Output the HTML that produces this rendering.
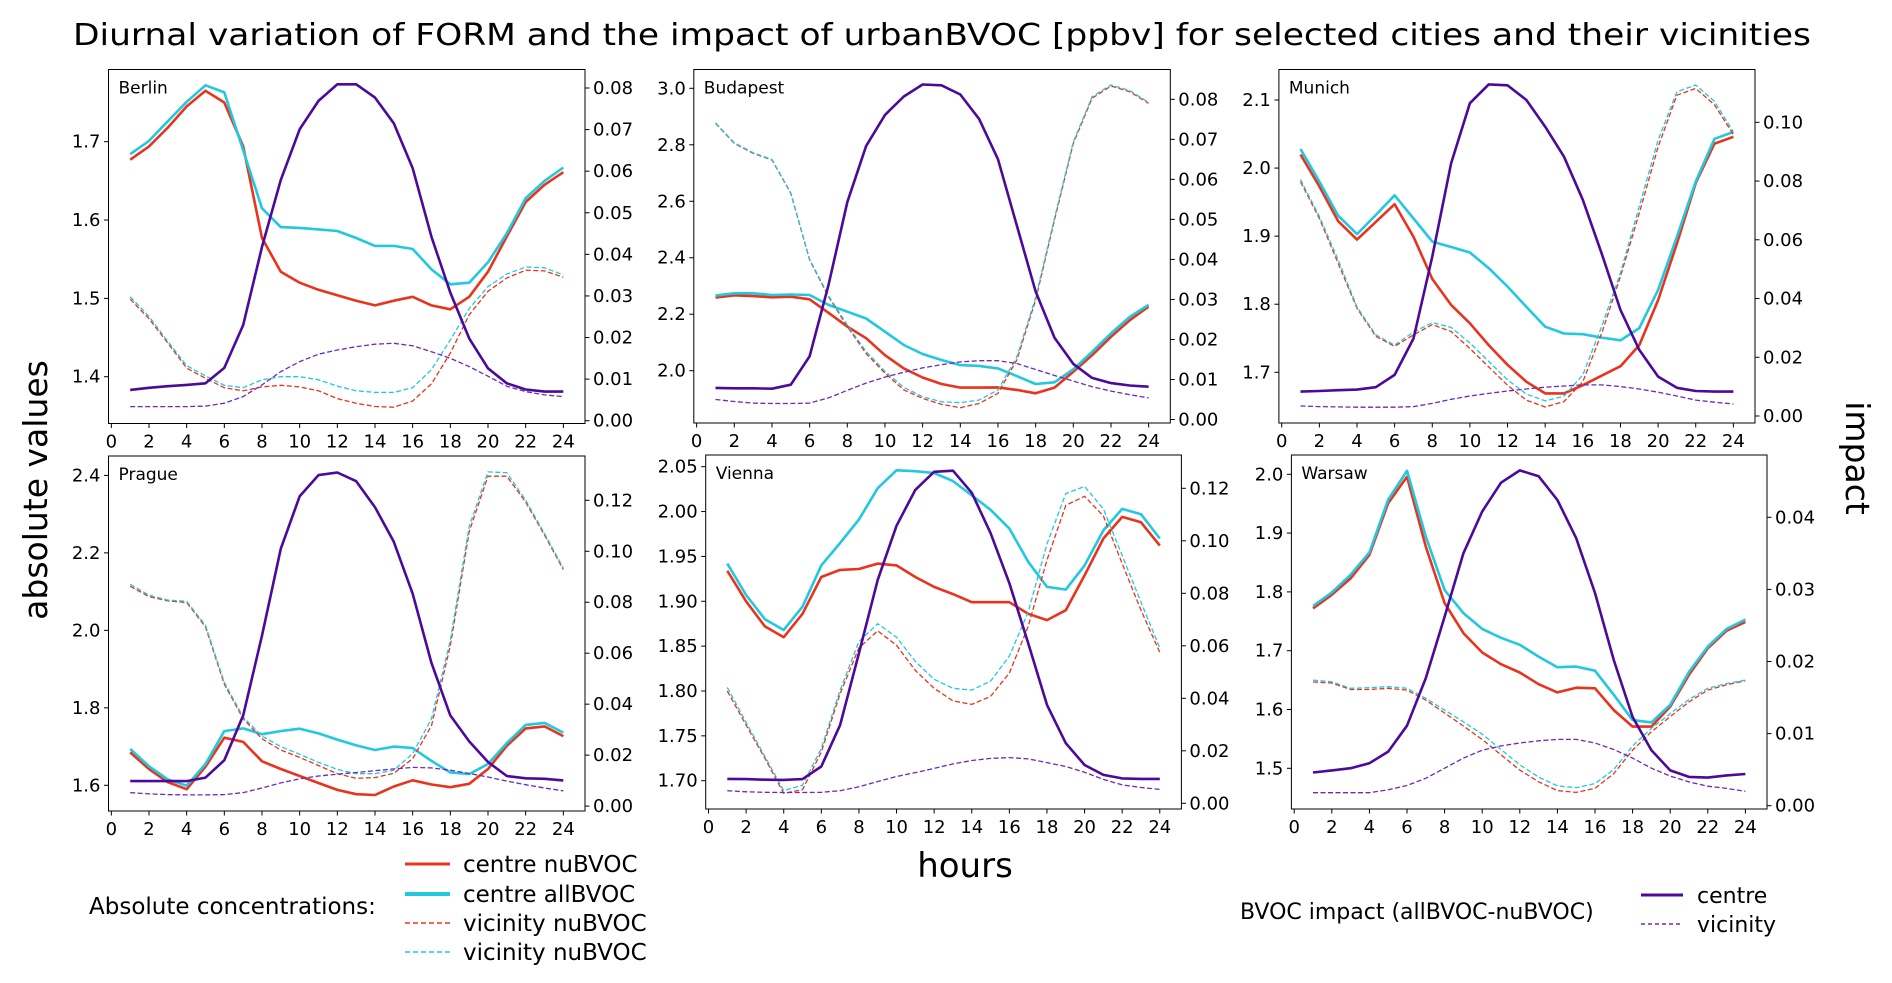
<!DOCTYPE html>
<html><head><meta charset="utf-8"><title>Diurnal variation of FORM</title>
<style>
html,body{margin:0;padding:0;background:#fff;}
svg{display:block;font-family:"DejaVu Sans","Liberation Sans",sans-serif;}
</style></head>
<body>
<svg id="chart" width="1892" height="983" viewBox="0 0 1892 983" xmlns="http://www.w3.org/2000/svg">
<rect width="1892" height="983" fill="#fff"/>
<text x="942" y="45" font-size="30" text-anchor="middle" textLength="1738" lengthAdjust="spacingAndGlyphs" fill="#000">Diurnal variation of FORM and the impact of urbanBVOC [ppbv] for selected cities and their vicinities</text>
<text transform="translate(47,490) rotate(-90)" font-size="33" text-anchor="middle" fill="#000">absolute values</text>
<text transform="translate(1846,458) rotate(90)" font-size="33" text-anchor="middle" fill="#000">impact</text>
<text x="965" y="877" font-size="34" text-anchor="middle" fill="#000">hours</text>
<g id="panels"></g>
<g>
<text x="89" y="914" font-size="23" fill="#000">Absolute concentrations:</text>
<line x1="405" y1="864" x2="450" y2="864" stroke="#e8341c" stroke-width="3"/>
<text x="463" y="872" font-size="23">centre nuBVOC</text>
<line x1="405" y1="894" x2="450" y2="894" stroke="#22c8e0" stroke-width="4"/>
<text x="463" y="902" font-size="23">centre allBVOC</text>
<line x1="405" y1="923" x2="450" y2="923" stroke="#e8341c" stroke-width="1.5" stroke-dasharray="5,3"/>
<text x="463" y="931" font-size="23">vicinity nuBVOC</text>
<line x1="405" y1="952" x2="450" y2="952" stroke="#22c8e0" stroke-width="1.5" stroke-dasharray="5,3"/>
<text x="463" y="960" font-size="23">vicinity nuBVOC</text>
</g>
<g>
<text x="1240" y="919" font-size="22">BVOC impact (allBVOC-nuBVOC)</text>
<line x1="1641" y1="895" x2="1683" y2="895" stroke="#4b0a9a" stroke-width="3"/>
<text x="1697" y="903" font-size="22">centre</text>
<line x1="1641" y1="924" x2="1683" y2="924" stroke="#6a2bb8" stroke-width="1.5" stroke-dasharray="4,3"/>
<text x="1697" y="932" font-size="22">vicinity</text>
</g>
</svg>
<script>
const hours = [1,2,3,4,5,6,7,8,9,10,11,12,13,14,15,16,17,18,19,20,21,22,23,24];
const xTicks = [0,2,4,6,8,10,12,14,16,18,20,22,24];
const cities = ["Berlin","Budapest","Munich","Prague","Vienna","Warsaw"];

const berlinCentreNu = [1.677,1.694,1.718,1.745,1.765,1.750,1.694,1.577,1.534,1.520,1.511,1.504,1.497,1.491,1.497,1.502,1.491,1.486,1.502,1.534,1.579,1.623,1.645,1.661];
const berlinCentreAll = [1.684,1.701,1.726,1.751,1.772,1.763,1.689,1.615,1.591,1.590,1.588,1.586,1.577,1.567,1.567,1.563,1.537,1.518,1.520,1.546,1.583,1.628,1.650,1.667];
const berlinVicNu = [1.499,1.474,1.443,1.411,1.398,1.386,1.382,1.387,1.389,1.387,1.382,1.372,1.366,1.362,1.361,1.369,1.391,1.430,1.479,1.509,1.526,1.536,1.535,1.527];
const berlinVicAll = [1.502,1.477,1.445,1.414,1.401,1.389,1.386,1.396,1.400,1.400,1.396,1.388,1.382,1.380,1.380,1.386,1.409,1.447,1.487,1.515,1.531,1.540,1.539,1.530];
const berlinImpCentre = [0.0074,0.0079,0.0083,0.0086,0.0090,0.0127,0.0230,0.0418,0.0579,0.0701,0.0769,0.0809,0.0809,0.0777,0.0715,0.0607,0.0442,0.0308,0.0198,0.0126,0.0090,0.0075,0.0070,0.0070];
const berlinImpVic = [0.0034,0.0034,0.0034,0.0034,0.0035,0.0042,0.0058,0.0086,0.0118,0.0142,0.0160,0.0170,0.0178,0.0184,0.0186,0.0180,0.0166,0.0150,0.0130,0.0107,0.0083,0.0070,0.0062,0.0058];

const budapestCentreNu = [2.259,2.267,2.264,2.260,2.262,2.253,2.205,2.156,2.115,2.055,2.008,1.976,1.953,1.940,1.940,1.941,1.932,1.920,1.940,1.996,2.055,2.120,2.179,2.227];
const budapestCentreAll = [2.266,2.274,2.274,2.268,2.270,2.268,2.233,2.209,2.185,2.138,2.091,2.059,2.038,2.020,2.017,2.008,1.981,1.953,1.959,2.005,2.067,2.132,2.191,2.233];
const budapestVicNu = [2.876,2.805,2.770,2.746,2.628,2.392,2.262,2.156,2.061,1.991,1.932,1.902,1.881,1.869,1.884,1.920,2.038,2.250,2.534,2.805,2.965,3.008,2.988,2.947];
const budapestVicAll = [2.878,2.807,2.772,2.748,2.630,2.395,2.266,2.162,2.068,1.998,1.941,1.908,1.890,1.887,1.896,1.932,2.048,2.258,2.540,2.810,2.970,3.012,2.992,2.950];
const budapestImpCentre = [0.0079,0.0078,0.0078,0.0077,0.0087,0.0158,0.0336,0.0543,0.0683,0.0761,0.0807,0.0837,0.0835,0.0812,0.0751,0.0650,0.0485,0.0320,0.0204,0.0139,0.0104,0.0091,0.0085,0.0082];
const budapestImpVic = [0.0050,0.0045,0.0041,0.0040,0.0040,0.0041,0.0054,0.0073,0.0091,0.0106,0.0118,0.0129,0.0137,0.0144,0.0147,0.0147,0.0140,0.0125,0.0110,0.0096,0.0082,0.0071,0.0062,0.0054];

const munichCentreNu = [2.020,1.973,1.922,1.895,1.921,1.947,1.899,1.837,1.799,1.772,1.740,1.711,1.686,1.669,1.669,1.681,1.695,1.709,1.740,1.806,1.889,1.978,2.036,2.046];
const munichCentreAll = [2.028,1.980,1.930,1.903,1.931,1.960,1.926,1.892,1.884,1.876,1.853,1.826,1.796,1.767,1.757,1.756,1.751,1.747,1.765,1.821,1.899,1.980,2.043,2.053];
const munichVicNu = [1.980,1.926,1.860,1.794,1.753,1.738,1.755,1.770,1.760,1.735,1.708,1.681,1.659,1.649,1.657,1.686,1.757,1.841,1.934,2.031,2.107,2.117,2.093,2.049];
const munichVicAll = [1.983,1.929,1.865,1.796,1.755,1.740,1.759,1.773,1.766,1.743,1.716,1.689,1.668,1.658,1.665,1.696,1.767,1.846,1.944,2.041,2.112,2.122,2.098,2.053];
const munichImpCentre = [0.0083,0.0085,0.0088,0.0090,0.0098,0.0140,0.0264,0.0543,0.0860,0.1065,0.1129,0.1126,0.1076,0.0985,0.0883,0.0736,0.0554,0.0361,0.0225,0.0134,0.0096,0.0085,0.0083,0.0083];
const munichImpVic = [0.0034,0.0032,0.0031,0.0030,0.0030,0.0030,0.0032,0.0043,0.0057,0.0068,0.0077,0.0085,0.0092,0.0098,0.0102,0.0106,0.0106,0.0100,0.0092,0.0081,0.0068,0.0054,0.0047,0.0041];

const pragueCentreNu = [1.685,1.642,1.608,1.590,1.648,1.723,1.712,1.662,1.642,1.624,1.606,1.588,1.577,1.575,1.597,1.613,1.602,1.595,1.604,1.642,1.702,1.747,1.752,1.727];
const pragueCentreAll = [1.694,1.649,1.615,1.599,1.655,1.740,1.747,1.732,1.740,1.746,1.734,1.718,1.703,1.691,1.700,1.696,1.663,1.633,1.629,1.655,1.709,1.756,1.761,1.736];
const pragueVicNu = [2.114,2.087,2.076,2.072,2.009,1.861,1.772,1.720,1.691,1.672,1.651,1.630,1.618,1.620,1.631,1.669,1.754,1.960,2.255,2.398,2.398,2.331,2.246,2.157];
const pragueVicAll = [2.119,2.091,2.078,2.075,2.013,1.866,1.776,1.727,1.700,1.680,1.659,1.641,1.630,1.630,1.639,1.682,1.772,1.974,2.268,2.409,2.407,2.336,2.250,2.161];
const pragueImpCentre = [0.0098,0.0098,0.0098,0.0098,0.0112,0.0180,0.0356,0.0669,0.1010,0.1216,0.1299,0.1309,0.1275,0.1173,0.1037,0.0833,0.0561,0.0356,0.0254,0.0173,0.0118,0.0109,0.0107,0.0101];
const pragueImpVic = [0.0053,0.0048,0.0045,0.0044,0.0044,0.0045,0.0053,0.0071,0.0091,0.0107,0.0118,0.0125,0.0132,0.0139,0.0146,0.0152,0.0150,0.0141,0.0128,0.0114,0.0098,0.0084,0.0071,0.0060];

const viennaCentreNu = [1.934,1.900,1.872,1.860,1.886,1.927,1.935,1.936,1.942,1.940,1.927,1.916,1.908,1.899,1.899,1.899,1.886,1.879,1.890,1.929,1.970,1.994,1.988,1.962];
const viennaCentreAll = [1.942,1.907,1.880,1.868,1.894,1.940,1.965,1.991,2.026,2.046,2.045,2.043,2.034,2.018,2.002,1.981,1.944,1.916,1.913,1.940,1.979,2.003,1.997,1.970];
const viennaVicNu = [1.800,1.762,1.725,1.686,1.690,1.732,1.797,1.848,1.867,1.851,1.823,1.803,1.789,1.785,1.794,1.820,1.872,1.946,2.007,2.017,1.995,1.942,1.890,1.843];
const viennaVicAll = [1.804,1.765,1.727,1.689,1.695,1.736,1.801,1.855,1.875,1.860,1.833,1.813,1.803,1.801,1.811,1.839,1.888,1.964,2.020,2.028,2.003,1.951,1.899,1.848];
const viennaImpCentre = [0.0093,0.0092,0.0090,0.0089,0.0092,0.0140,0.0298,0.0571,0.0851,0.1057,0.1194,0.1263,0.1267,0.1183,0.1029,0.0838,0.0610,0.0375,0.0229,0.0146,0.0108,0.0095,0.0093,0.0093];
const viennaImpVic = [0.0048,0.0044,0.0042,0.0041,0.0041,0.0042,0.0048,0.0063,0.0083,0.0102,0.0117,0.0133,0.0150,0.0163,0.0171,0.0174,0.0169,0.0155,0.0140,0.0118,0.0091,0.0070,0.0060,0.0053];

const warsawCentreNu = [1.772,1.795,1.823,1.863,1.951,1.996,1.877,1.781,1.730,1.697,1.677,1.663,1.643,1.629,1.637,1.636,1.599,1.571,1.571,1.605,1.659,1.704,1.734,1.749];
const warsawCentreAll = [1.776,1.799,1.829,1.867,1.957,2.006,1.894,1.803,1.764,1.737,1.722,1.710,1.690,1.672,1.673,1.666,1.625,1.582,1.578,1.608,1.664,1.707,1.737,1.753];
const warsawVicNu = [1.647,1.645,1.634,1.634,1.636,1.633,1.616,1.594,1.572,1.549,1.523,1.497,1.477,1.462,1.459,1.466,1.491,1.531,1.562,1.588,1.613,1.633,1.642,1.649];
const warsawVicAll = [1.650,1.647,1.636,1.637,1.639,1.636,1.619,1.599,1.579,1.558,1.532,1.506,1.485,1.470,1.467,1.474,1.498,1.538,1.568,1.593,1.617,1.636,1.644,1.650];
const warsawImpCentre = [0.0046,0.0049,0.0052,0.0059,0.0075,0.0111,0.0177,0.0262,0.0350,0.0408,0.0448,0.0465,0.0457,0.0424,0.0371,0.0295,0.0202,0.0123,0.0077,0.0049,0.0040,0.0039,0.0042,0.0044];
const warsawImpVic = [0.0018,0.0018,0.0018,0.0018,0.0022,0.0028,0.0038,0.0052,0.0066,0.0077,0.0083,0.0087,0.0090,0.0092,0.0092,0.0087,0.0078,0.0066,0.0052,0.0041,0.0033,0.0027,0.0024,0.0020];

const berlinLeftTicks = [1.4,1.5,1.6,1.7];
const berlinRightTicks = [0,0.01,0.02,0.03,0.04,0.05,0.06,0.07,0.08];
const budapestLeftTicks = [2.0,2.2,2.4,2.6,2.8,3.0];
const budapestRightTicks = [0,0.01,0.02,0.03,0.04,0.05,0.06,0.07,0.08];
const munichLeftTicks = [1.7,1.8,1.9,2.0,2.1];
const munichRightTicks = [0,0.02,0.04,0.06,0.08,0.10];
const pragueLeftTicks = [1.6,1.8,2.0,2.2,2.4];
const pragueRightTicks = [0,0.02,0.04,0.06,0.08,0.10,0.12];
const viennaLeftTicks = [1.70,1.75,1.80,1.85,1.90,1.95,2.00,2.05];
const viennaRightTicks = [0,0.02,0.04,0.06,0.08,0.10,0.12];
const warsawLeftTicks = [1.5,1.6,1.7,1.8,1.9,2.0];
const warsawRightTicks = [0,0.01,0.02,0.03,0.04];

const layout = [
 {name:"berlin", x0:108.5,x1:585,y0:69.5,y1:423.5, l:[1.4,376.7,1.7,141.7], r:[0,420.7,0.08,88], ld:1, rd:2, ticks:[berlinLeftTicks,berlinRightTicks], s:[berlinCentreNu,berlinCentreAll,berlinVicNu,berlinVicAll,berlinImpCentre,berlinImpVic]},
 {name:"budapest", x0:693.8,x1:1170.3,y0:69.5,y1:423, l:[2.0,370.7,3.0,88.3], r:[0,419.5,0.08,99.3], ld:1, rd:2, ticks:[budapestLeftTicks,budapestRightTicks], s:[budapestCentreNu,budapestCentreAll,budapestVicNu,budapestVicAll,budapestImpCentre,budapestImpVic]},
 {name:"munich", x0:1278.9,x1:1755,y0:69.5,y1:423, l:[1.7,372.3,2.1,100], r:[0,416,0.10,122.3], ld:1, rd:2, ticks:[munichLeftTicks,munichRightTicks], s:[munichCentreNu,munichCentreAll,munichVicNu,munichVicAll,munichImpCentre,munichImpVic]},
 {name:"prague", x0:108.5,x1:585,y0:456,y1:811, l:[1.6,785.3,2.4,475.4], r:[0,806.1,0.12,500.3], ld:1, rd:2, ticks:[pragueLeftTicks,pragueRightTicks], s:[pragueCentreNu,pragueCentreAll,pragueVicNu,pragueVicAll,pragueImpCentre,pragueImpVic]},
 {name:"vienna", x0:705.7,x1:1181.4,y0:455,y1:809, l:[1.70,780.7,2.05,466.7], r:[0,803.3,0.12,488.3], ld:2, rd:2, ticks:[viennaLeftTicks,viennaRightTicks], s:[viennaCentreNu,viennaCentreAll,viennaVicNu,viennaVicAll,viennaImpCentre,viennaImpVic]},
 {name:"warsaw", x0:1291.4,x1:1767,y0:455,y1:809, l:[1.5,768.3,2.0,474.3], r:[0,805.7,0.04,517.3], ld:1, rd:2, ticks:[warsawLeftTicks,warsawRightTicks], s:[warsawCentreNu,warsawCentreAll,warsawVicNu,warsawVicAll,warsawImpCentre,warsawImpVic]}
];
const styles = [
 {c:"#e8341c",w:2.6,d:"",n:"centre-nubvoc",ax:"l"},
 {c:"#22c8e0",w:2.6,d:"",n:"centre-allbvoc",ax:"l"},
 {c:"#e8341c",w:1.3,d:"5,2.5",n:"vicinity-nubvoc",ax:"l"},
 {c:"#22c8e0",w:1.3,d:"5,2.5",n:"vicinity-allbvoc",ax:"l"},
 {c:"#4b0a9a",w:2.6,d:"",n:"centre-impact",ax:"r"},
 {c:"#6a2bb8",w:1.3,d:"5,2.5",n:"vicinity-impact",ax:"r"}
];
const NS="http://www.w3.org/2000/svg";
function mk(tag,attrs,parent){const e=document.createElementNS(NS,tag);for(const k in attrs)e.setAttribute(k,attrs[k]);if(parent)parent.appendChild(e);return e;}
function lin(c){return v=>c[1]+(v-c[0])*(c[3]-c[1])/(c[2]-c[0]);}
const root=document.getElementById("panels");
layout.forEach((p,pi)=>{
  const g=mk("g",{},root);
  
  
  const xs=v=>p.x0+(v+0.15)*(p.x1-p.x0)/25.3;
  const yl=lin(p.l), yr=lin(p.r);
  styles.forEach((st,si)=>{
    const ys = st.ax==="l"?yl:yr;
    const pts = hours.map((h,i)=>xs(h).toFixed(1)+","+ys(p.s[si][i]).toFixed(1)).join(" ");
    const pl=mk("polyline",{points:pts,fill:"none",stroke:st.c,"stroke-width":st.w,"stroke-linejoin":"round","stroke-dasharray":st.d},g);
    
    
  });
  const fr=mk("rect",{x:p.x0,y:p.y0,width:p.x1-p.x0,height:p.y1-p.y0,fill:"none",stroke:"#000","stroke-width":1},g);
  
  
  const lbl=mk("text",{x:p.x0+10,y:p.y0+24,"font-size":17,fill:"#000"},g);
  lbl.textContent=cities[pi];
  
  
  xTicks.forEach(t=>{
    const x=xs(t);
    mk("line",{x1:x,y1:p.y1,x2:x,y2:p.y1+4.5,stroke:"#000","stroke-width":1},g);
    const tx=mk("text",{x:x,y:p.y1+24,"font-size":18,"text-anchor":"middle",fill:"#000"},g);
    tx.textContent=String(t);
    
    
  });
  p.ticks[0].forEach(t=>{
    const y=yl(t);
    mk("line",{x1:p.x0-4.5,y1:y,x2:p.x0,y2:y,stroke:"#000","stroke-width":1},g);
    const tx=mk("text",{x:p.x0-8,y:y+6,"font-size":18,"text-anchor":"end",fill:"#000"},g);
    tx.textContent=t.toFixed(p.ld);
    
    
  });
  p.ticks[1].forEach(t=>{
    const y=yr(t);
    mk("line",{x1:p.x1,y1:y,x2:p.x1+4.5,y2:y,stroke:"#000","stroke-width":1},g);
    const tx=mk("text",{x:p.x1+8,y:y+6,"font-size":18,fill:"#000"},g);
    tx.textContent=t.toFixed(p.rd);
    
    
  });
});
</script>
</body></html>
